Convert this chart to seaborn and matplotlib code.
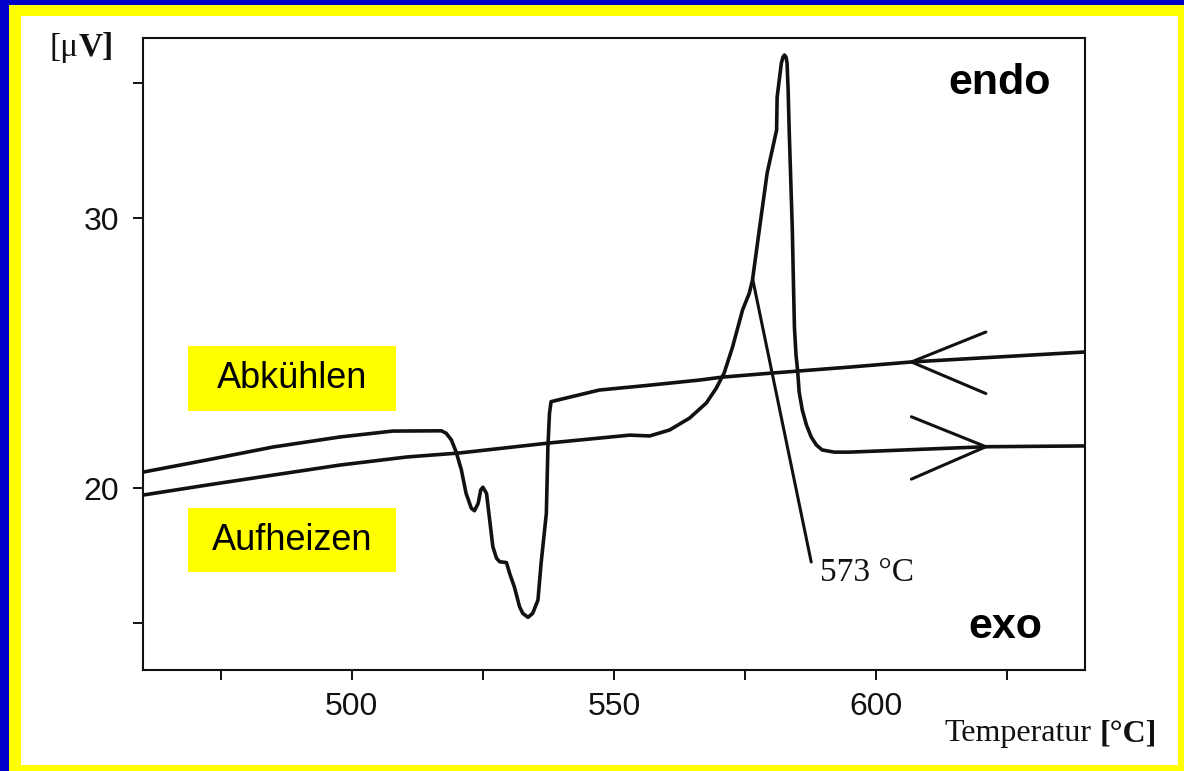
import matplotlib
matplotlib.use("Agg")
import matplotlib.pyplot as plt
from matplotlib.patches import Rectangle
import seaborn as sns

# ---------------- data ----------------
heat_T = [460.2, 472.4, 485.0, 497.7, 510.5, 520.6, 537.7, 547.2, 553.0, 556.8,
          560.6, 564.4, 567.6, 569.5, 571.0, 572.6, 574.5, 575.8, 576.4, 577.7,
          579.2, 581.0, 581.1, 581.9, 582.2, 582.5, 582.8, 583.0, 583.2, 583.4,
          584.0, 584.2, 584.4, 584.7, 585.0, 585.3, 585.9, 586.7, 587.6, 588.6,
          589.7, 592.0, 594.9, 620.9, 639.8]
heat_V = [19.74, 20.11, 20.48, 20.85, 21.15, 21.30, 21.67, 21.85, 21.96, 21.93,
          22.15, 22.59, 23.15, 23.70, 24.26, 25.22, 26.59, 27.22, 27.70, 29.56,
          31.67, 33.26, 34.48, 35.73, 35.96, 36.04, 35.96, 35.74, 34.74, 33.26,
          29.56, 27.70, 25.96, 24.93, 24.37, 23.56, 22.89, 22.33, 21.89, 21.59,
          21.41, 21.33, 21.33, 21.53, 21.56]

cool_T = [639.8, 606.7, 594.9, 580.2, 570.7, 566.3, 556.8, 547.2, 538.0, 537.7,
          537.4, 537.1, 536.1, 535.5, 534.5, 533.6, 532.6, 532.0, 531.0, 530.1,
          529.5, 528.2, 527.6, 526.9, 526.3, 525.7, 525.0, 524.6, 524.1, 523.4,
          522.8, 521.8, 520.9, 519.9, 519.0, 518.0, 517.1, 507.8, 497.7, 485.0,
          472.4, 460.2]
cool_V = [25.04, 24.67, 24.48, 24.26, 24.11, 24.00, 23.81, 23.63, 23.20, 22.77,
          21.53, 19.06, 17.21, 15.85, 15.36, 15.21, 15.36, 15.60, 16.34, 16.84,
          17.24, 17.27, 17.40, 17.83, 18.81, 19.80, 20.03, 19.93, 19.43, 19.16,
          19.25, 19.80, 20.67, 21.34, 21.78, 22.03, 22.12, 22.11, 21.89, 21.52,
          21.04, 20.59]

# annotation: 573 °C onset line
onset_T = [576.4, 587.6]
onset_V = [27.78, 17.26]
onset_label = "573 °C"

# direction arrows (arm end, vertex, arm end)
arrow_cool_T = [620.9, 606.7, 620.9]
arrow_cool_V = [25.78, 24.67, 23.50]
arrow_heat_T = [606.7, 620.9, 606.7]
arrow_heat_V = [22.64, 21.53, 20.33]

x_major = [500, 550, 600]
x_minor = [475, 525, 575, 625]
y_major = [20, 30]
y_minor = [15, 35]
x_ticklabels = ["500", "550", "600"]
y_ticklabels = ["20", "30"]

label_cool = "Abkühlen"
label_heat = "Aufheizen"

# ---------------- figure ----------------
sns.set_style("ticks")
plt.rcParams["font.family"] = ["Liberation Sans", "DejaVu Sans"]

W, H = 1184, 771
fig = plt.figure(figsize=(W / 100, H / 100), dpi=100)
fig.patch.set_facecolor("#0000c8")

def fx(px):
    return px / W

def fy(py):
    return 1 - py / H

# yellow frame and white page
fig.patches.append(Rectangle((fx(9), 0), 1 - fx(9), fy(5),
                             transform=fig.transFigure, facecolor="#ffff00", edgecolor="none", zorder=-3))
fig.patches.append(Rectangle((fx(21), fy(765)), fx(1178 - 21), fy(16) - fy(765),
                             transform=fig.transFigure, facecolor="white", edgecolor="none", zorder=-2))

ax = fig.add_axes([fx(143), fy(670), fx(1085 - 143), fy(38) - fy(670)])
ax.set_facecolor("none")

line_kw = dict(color="#111111", linewidth=2.6)
sns.lineplot(x=heat_T, y=heat_V, sort=False, estimator=None, ax=ax, **line_kw)
sns.lineplot(x=cool_T, y=cool_V, sort=False, estimator=None, ax=ax, **line_kw)
ax.plot(onset_T, onset_V, color="#111111", linewidth=2.2)
ax.plot(arrow_cool_T, arrow_cool_V, color="#111111", linewidth=2.2)
ax.plot(arrow_heat_T, arrow_heat_V, color="#111111", linewidth=2.2)

ax.set_xlim(460.2, 639.8)
ax.set_ylim(13.26, 36.67)
ax.set_xticks(x_major)
ax.set_xticklabels(x_ticklabels)
ax.set_xticks(x_minor, minor=True)
ax.set_yticks(y_major)
ax.set_yticklabels(y_ticklabels)
ax.set_yticks(y_minor, minor=True)
ax.tick_params(which="both", direction="out", length=7, width=1.4, color="#111111")
ax.tick_params(axis="x", which="major", labelsize=23, pad=9, labelcolor="#111111")
ax.tick_params(axis="y", which="major", labelsize=23, pad=10, labelcolor="#111111")
for s in ax.spines.values():
    s.set_visible(True)
    s.set_linewidth(1.5)
    s.set_color("#111111")
ax.set_xlabel("")
ax.set_ylabel("")

# 573 °C label
ax.text(onset_T[1] + 1.6, onset_V[1] - 0.4, onset_label, family="Liberation Serif",
        fontsize=24, ha="left", va="center", color="#111111")

# endo / exo
ax.text(0.964, 0.929, "endo", transform=ax.transAxes, fontsize=31, fontweight="bold",
        ha="right", va="center", color="black")
ax.text(0.955, 0.068, "exo", transform=ax.transAxes, fontsize=31, fontweight="bold",
        ha="right", va="center", color="black")

# yellow label boxes
for (x0, y0, x1, y1, txt) in [(188, 346, 396, 411, label_cool), (188, 508, 396, 572, label_heat)]:
    fig.patches.append(Rectangle((fx(x0), fy(y1)), fx(x1 - x0), fy(y0) - fy(y1),
                                 transform=fig.transFigure, facecolor="#ffff00",
                                 edgecolor="none", zorder=1))
    fig.text(fx((x0 + x1) / 2), fy((y0 + y1) / 2), txt, fontsize=26, ha="center",
             va="center", color="black", zorder=2)

# axis labels (mixed weight, serif)
fig.canvas.draw()
r = fig.canvas.get_renderer()
t1 = fig.text(fx(50), fy(48), "[μ", family="Liberation Serif", fontsize=24,
              ha="left", va="center", color="#111111")
bb = t1.get_window_extent(renderer=r)
fig.text(bb.x1 / W, fy(48), "V]", family="Liberation Serif", fontsize=24,
         fontweight="bold", ha="left", va="center", color="#111111")

t2 = fig.text(fx(1157), fy(734), "[°C]", family="Liberation Serif", fontsize=23,
              fontweight="bold", ha="right", va="center", color="#111111")
bb2 = t2.get_window_extent(renderer=r)
fig.text((bb2.x0 - 8) / W, fy(734), "Temperatur", family="Liberation Serif",
         fontsize=23, ha="right", va="center", color="#111111")

fig.savefig("out.png", dpi=100, facecolor=fig.get_facecolor())
